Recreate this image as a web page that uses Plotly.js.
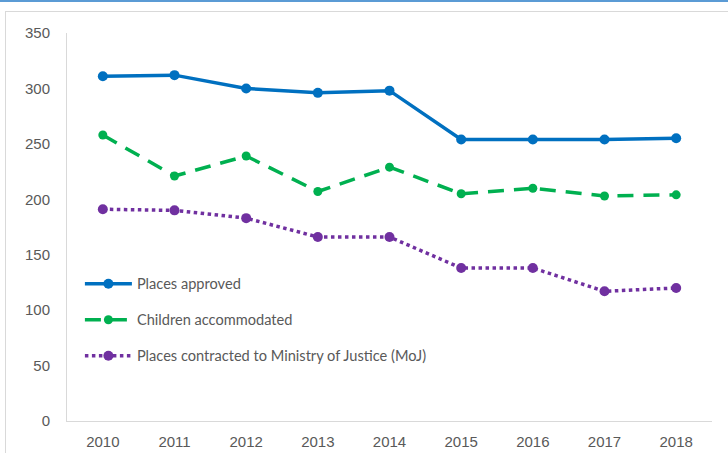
<!DOCTYPE html>
<html>
<head>
<meta charset="utf-8">
<script src="https://cdn.plot.ly/plotly-3.0.1.min.js"></script>
<style>
html,body{margin:0;padding:0;background:#fff;}
#wrap{position:relative;width:728px;height:453px;overflow:hidden;}
#topline{position:absolute;left:0;top:0;width:728px;height:2px;background:#5B9BD5;}
#frame{position:absolute;left:5px;top:11px;width:730px;height:450px;border:1px solid #d9d9d9;box-sizing:border-box;}
#chart{position:absolute;left:0;top:0;width:728px;height:453px;}
</style>
</head>
<body>
<div id="wrap">
<div id="topline"></div>
<div id="frame"></div>
<div id="chart"></div>
</div>
<script>
var years = ['2010','2011','2012','2013','2014','2015','2016','2017','2018'];
var placesApproved = [311, 312, 300, 296, 298, 254, 254, 254, 255];
var childrenAccommodated = [258, 221, 239, 207, 229, 205, 210, 203, 204];
var placesMoJ = [191, 190, 183, 166, 166, 138, 138, 117, 120];
var yTicks = [0, 50, 100, 150, 200, 250, 300, 350];

var traces = [
  {x: years, y: placesApproved, name: 'Places approved', legendgroup: 'a', type: 'scatter', mode: 'lines+markers',
   line: {color: '#0070C0', width: 3.5}, marker: {color: '#0070C0', size: 10, symbol: 'circle'}},
  {x: years, y: childrenAccommodated, name: 'Children accommodated', legendgroup: 'b', type: 'scatter', mode: 'lines+markers',
   line: {color: '#00B050', width: 3.5, dash: '16px,10px'}, marker: {color: '#00B050', size: 9, symbol: 'circle'}},
  {x: years, y: placesMoJ, name: 'Places contracted to Ministry of Justice (MoJ)', legendgroup: 'c', type: 'scatter', mode: 'lines+markers',
   line: {color: '#7030A0', width: 3.5, dash: 'dot'}, marker: {color: '#7030A0', size: 10, symbol: 'circle'}}
];

var layout = {
  width: 728, height: 453,
  margin: {l: 67, r: 16, t: 33, b: 32},
  paper_bgcolor: 'rgba(0,0,0,0)',
  plot_bgcolor: 'rgba(0,0,0,0)',
  showlegend: true,
  legend: {x: 0.02, y: 0.395, xanchor: 'left', yanchor: 'top', bgcolor: 'rgba(0,0,0,0)',
           traceorder: 'grouped',
           font: {family: 'Lato, "Noto Sans", sans-serif', size: 14.6, color: '#595959'},
           itemwidth: 47, tracegroupgap: 14},
  xaxis: {type: 'category', range: [-0.5, 8.5], showgrid: false, zeroline: false,
          showline: true, linecolor: '#d9d9d9', linewidth: 1, ticks: '', ticklabelstandoff: 7,
          tickfont: {family: '"Liberation Sans", Arial, sans-serif', size: 15, color: '#595959'}},
  yaxis: {range: [0, 350], tickvals: yTicks, showgrid: false, zeroline: false,
          showline: true, linecolor: '#d9d9d9', linewidth: 1, ticks: '', ticklabelstandoff: 13,
          tickfont: {family: '"Liberation Sans", Arial, sans-serif', size: 15, color: '#595959'}}
};

Plotly.newPlot('chart', traces, layout, {displayModeBar: false, staticPlot: true});
</script>
</body>
</html>
